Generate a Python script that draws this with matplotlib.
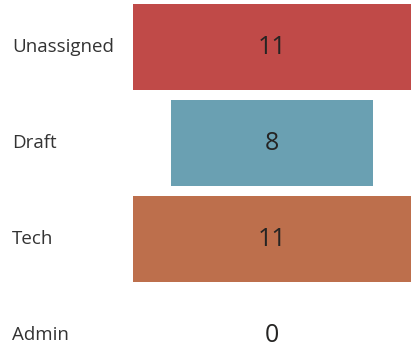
import matplotlib
matplotlib.use("Agg")
import matplotlib.pyplot as plt

categories = ["Unassigned", "Draft", "Tech", "Admin"]
values = [11, 8, 11, 0]
colors = ["#C04A48", "#6AA0B2", "#BD6F4C", "#8C8C8C"]

W, H = 411, 350
fig = plt.figure(figsize=(W / 100, H / 100), dpi=100)
ax = fig.add_axes([133 / W, 0, 278 / W, 1])
ymax = max(values)
pos = list(range(len(categories)))
ax.barh(pos, values, left=[-v / 2 for v in values], height=0.9,
        color=colors, edgecolor="none")
ax.set_xlim(-ymax / 2, ymax / 2)
ax.set_ylim((H - 47) / 96, -47 / 96)
ax.axis("off")

for i, (c, v) in enumerate(zip(categories, values)):
    ax.text(0, i, str(v), ha="center", va="center", fontsize=18,
            color="#252423", family="Open Sans")
    fig.text(12 / W, 1 - (47 + 96 * i) / H, c, ha="left", va="center",
             fontsize=13.5, color="#333333", family="Open Sans")

fig.savefig("out.png", dpi=100)
